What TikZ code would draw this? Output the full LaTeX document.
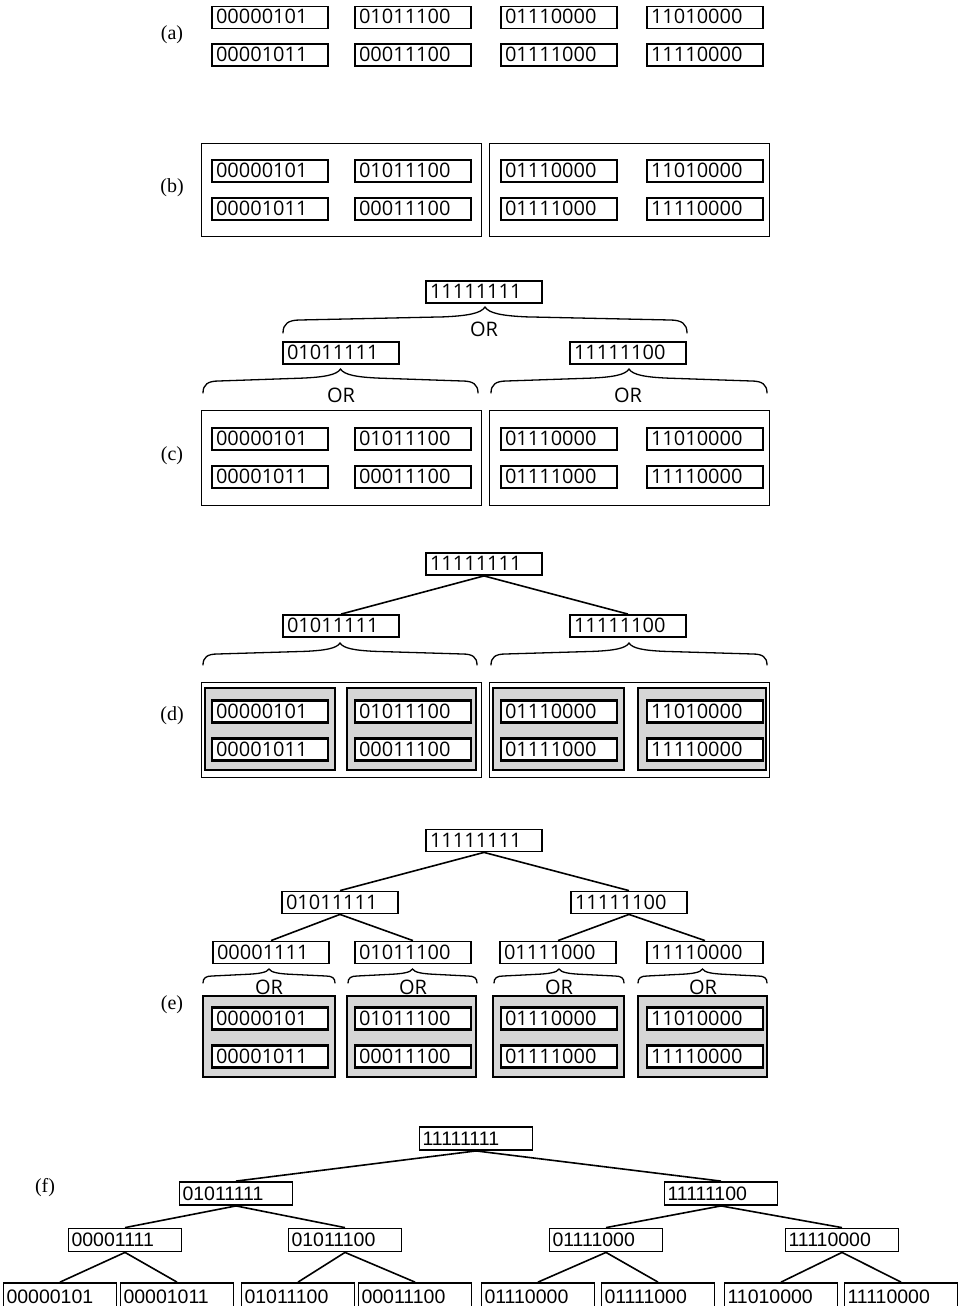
\documentclass[tikz,border=0pt]{standalone}
\usepackage{fontspec}
\newfontfamily\bitfam{Open Sans}
\newfontfamily\arialfam{Liberation Sans}
\newfontfamily\labfam{Liberation Serif}
\newcommand{\bitfont}{\bitfam\fontsize{20}{24}\selectfont}
\newcommand{\arialfont}{\arialfam\fontsize{19.5}{24}\selectfont}
\newcommand{\labfont}{\labfam\fontsize{20}{24}\selectfont}
% curly brace with its tip pointing up: x1, x2, y of the ends, height
\newcommand{\curly}[4]{%
  \draw[bracestroke] (#1,#3)
    .. controls (#1,{#3-0.35*#4}) and ({#1+0.2*#4},{#3-0.5*#4}) .. ({#1+0.65*#4},{#3-0.5*#4})
    -- ({(#1+#2)/2-1.6*#4},{#3-0.62*#4})
    .. controls ({(#1+#2)/2-0.7*#4},{#3-0.66*#4}) and ({(#1+#2)/2-0.15*#4},{#3-0.75*#4}) .. ({(#1+#2)/2},{#3-#4})
    .. controls ({(#1+#2)/2+0.15*#4},{#3-0.75*#4}) and ({(#1+#2)/2+0.7*#4},{#3-0.66*#4}) .. ({(#1+#2)/2+1.6*#4},{#3-0.62*#4})
    -- ({#2-0.65*#4},{#3-0.5*#4})
    .. controls ({#2-0.2*#4},{#3-0.5*#4}) and (#2,{#3-0.35*#4}) .. (#2,#3);}
\tikzset{
  bit/.style={draw, line width=1.8pt, font=\bitfont, inner xsep=4pt, inner ysep=0pt,
    text width=108pt, text height=14pt, text depth=1pt, minimum height=22pt, align=left, fill=white},
  fbit/.style={draw, line width=1.8pt, font=\arialfont, inner xsep=3pt, inner ysep=0pt,
    text width=107pt, text height=14pt, text depth=1pt, minimum height=23pt, align=left, fill=white},
  outerbox/.style={draw, line width=0.9pt, inner sep=0pt},
  grp/.style={draw, line width=1.2pt, fill=black!16, inner sep=0pt},
  lbl/.style={font=\labfont, inner sep=0pt},
  bracestroke/.style={line width=1.3pt, line cap=round},
  orlbl/.style={font=\bitfont, inner sep=0pt},
  link/.style={line width=1.6pt}
}
\begin{document}
\begin{tikzpicture}[x=1pt, y=-1pt]
\useasboundingbox (0,0) rectangle (962,1306);

% ---------- (a)
\node[lbl] (la) at (172,35) {(a)};
\foreach \v/\x [count=\i] in {00000101/270, 01011100/413, 01110000/559, 11010000/705}
  \node[bit] (aT\i) at (\x,17.5) {\v};
\foreach \v/\x [count=\i] in {00001011/270, 00011100/413, 01111000/559, 11110000/705}
  \node[bit] (aB\i) at (\x,55) {\v};

% ---------- (b)
\node[lbl] (lb) at (172,188) {(b)};
\node[outerbox, minimum width=280pt, minimum height=93pt] (bL) at (341,189.5) {};
\node[outerbox, minimum width=280pt, minimum height=93pt] (bR) at (629,189.5) {};
\foreach \v/\x [count=\i] in {00000101/270, 01011100/413, 01110000/559, 11010000/705}
  \node[bit] (bT\i) at (\x,171) {\v};
\foreach \v/\x [count=\i] in {00001011/270, 00011100/413, 01111000/559, 11110000/705}
  \node[bit] (bB\i) at (\x,209) {\v};

% ---------- (c)
\node[lbl] (lc) at (172,456) {(c)};
\node[bit] (cR) at (484,292) {11111111};
\curly{283}{687}{333}{26}
\node[orlbl] (cOR) at (484,329) {OR};
\node[bit] (cA) at (341,353) {01011111};
\node[bit] (cB) at (628,353) {11111100};
\curly{203}{478}{393}{24}
\curly{491}{767}{393}{24}
\node[orlbl] (cORa) at (341,395) {OR};
\node[orlbl] (cORb) at (628,395) {OR};
\node[outerbox, minimum width=280pt, minimum height=95pt] (cL) at (341,457.5) {};
\node[outerbox, minimum width=280pt, minimum height=95pt] (cRR) at (629,457.5) {};
\foreach \v/\x [count=\i] in {00000101/270, 01011100/413, 01110000/559, 11010000/705}
  \node[bit] (cT\i) at (\x,439) {\v};
\foreach \v/\x [count=\i] in {00001011/270, 00011100/413, 01111000/559, 11110000/705}
  \node[bit] (cBt\i) at (\x,477) {\v};

% ---------- (d)
\node[lbl] (ld) at (172,716) {(d)};
\node[bit] (dR) at (484,564) {11111111};
\node[bit] (dA) at (341,626) {01011111};
\node[bit] (dB) at (628,626) {11111100};
\draw[link] (dR.south) -- (dA.north);
\draw[link] (dR.south) -- (dB.north);
\curly{203}{477}{665}{22}
\curly{491}{767}{665}{22}
\node[outerbox, minimum width=280pt, minimum height=95pt] (dL) at (341,729.5) {};
\node[outerbox, minimum width=280pt, minimum height=95pt] (dRR) at (629,729.5) {};
\foreach \x/\w [count=\i] in {270/130, 411.5/129, 558.5/131, 702/128}
  \node[grp, minimum width=\w pt, minimum height=82pt] (dG\i) at (\x,729) {};
\foreach \v/\x [count=\i] in {00000101/270, 01011100/413, 01110000/559, 11010000/705}
  \node[bit, line width=2.4pt] (dT\i) at (\x,711.5) {\v};
\foreach \v/\x [count=\i] in {00001011/270, 00011100/413, 01111000/559, 11110000/705}
  \node[bit, line width=2.4pt] (dBt\i) at (\x,749.5) {\v};

% ---------- (e)
\node[lbl] (le) at (172,1005) {(e)};
\node[bit] (eR) at (484,840.5) {11111111};
\node[bit] (eA) at (340,902.5) {01011111};
\node[bit] (eB) at (629,902.5) {11111100};
\node[bit] (e1) at (271,952.5) {00001111};
\node[bit] (e2) at (413,952.5) {01011100};
\node[bit] (e3) at (558,952.5) {01111000};
\node[bit] (e4) at (705,952.5) {11110000};
\draw[link] (eR.south) -- (eA.north);
\draw[link] (eR.south) -- (eB.north);
\draw[link] (eA.south) -- (e1.north);
\draw[link] (eA.south) -- (e2.north);
\draw[link] (eB.south) -- (e3.north);
\draw[link] (eB.south) -- (e4.north);
\foreach \a/\b/\m [count=\i] in {203/335/269, 348/477/413, 494/624/559, 638/767/703}{
  \curly{\a}{\b}{983}{14}
  \node[orlbl] (eOR\i) at (\m,987) {OR};
}
\foreach \x/\w [count=\i] in {269/132, 411.5/129, 558.5/131, 702.5/129}
  \node[grp, minimum width=\w pt, minimum height=81pt] (eG\i) at (\x,1036.5) {};
\foreach \v/\x [count=\i] in {00000101/270, 01011100/413, 01110000/559, 11010000/705}
  \node[bit, line width=2.4pt] (eT\i) at (\x,1018.5) {\v};
\foreach \v/\x [count=\i] in {00001011/270, 00011100/413, 01111000/559, 11110000/705}
  \node[bit, line width=2.4pt] (eBt\i) at (\x,1056.5) {\v};

% ---------- (f)
\node[lbl] (lf) at (45,1188) {(f)};
\node[fbit] (fR) at (476,1138.5) {11111111};
\node[fbit] (fA) at (236,1193.5) {01011111};
\node[fbit] (fB) at (721,1193.5) {11111100};
\node[fbit] (f1) at (125,1240) {00001111};
\node[fbit] (f2) at (345,1240) {01011100};
\node[fbit] (f3) at (606,1240) {01111000};
\node[fbit] (f4) at (842,1240) {11110000};
\foreach \v/\x [count=\i] in {00000101/60, 00001011/177, 01011100/298, 00011100/415,
    01110000/538, 01111000/658, 11010000/781, 11110000/901}
  \node[fbit, minimum height=27pt] (g\i) at (\x,1296.5) {\v};
\draw[link] (fR.south) -- (fA.north);
\draw[link] (fR.south) -- (fB.north);
\draw[link] (fA.south) -- (f1.north);
\draw[link] (fA.south) -- (f2.north);
\draw[link] (fB.south) -- (f3.north);
\draw[link] (fB.south) -- (f4.north);
\draw[link] (f1.south) -- (g1.north);
\draw[link] (f1.south) -- (g2.north);
\draw[link] (f2.south) -- (g3.north);
\draw[link] (f2.south) -- (g4.north);
\draw[link] (f3.south) -- (g5.north);
\draw[link] (f3.south) -- (g6.north);
\draw[link] (f4.south) -- (g7.north);
\draw[link] (f4.south) -- (g8.north);
\end{tikzpicture}
\end{document}
